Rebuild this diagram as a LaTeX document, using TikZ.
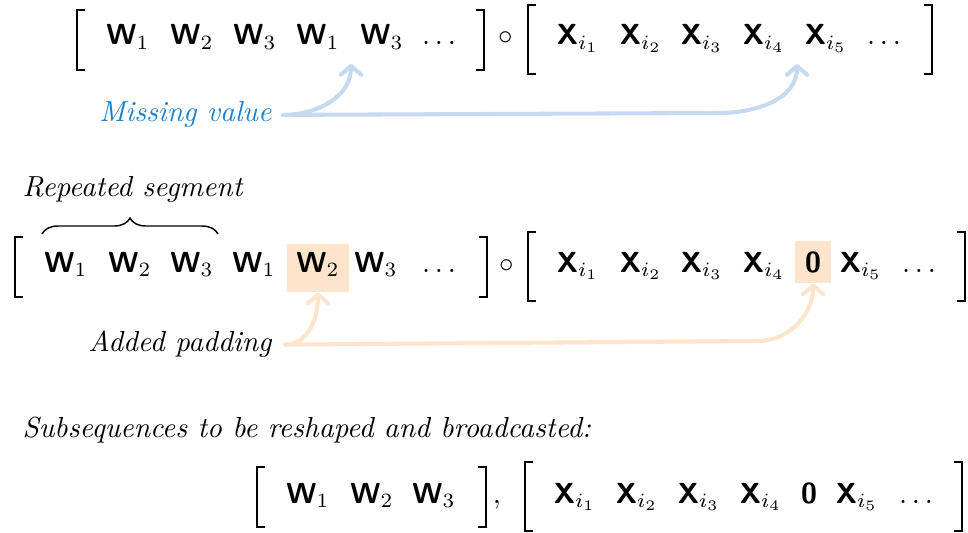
\documentclass[tikz,border=0pt]{standalone}
\usetikzlibrary{arrows.meta,decorations.pathreplacing}
\definecolor{labblue}{RGB}{28,128,200}
\definecolor{arrblue}{RGB}{197,217,240}
\definecolor{peach}{RGB}{253,228,203}
\newcommand{\bsf}[1]{\textsf{\bfseries #1}}
% square brackets: x, top, bottom
\newcommand{\lbr}[3]{\draw[brk] (#1+8,#2) -| (#1,#3) -- (#1+8,#3);}
\newcommand{\rbr}[3]{\draw[brk] (#1-8,#2) -| (#1,#3) -- (#1-8,#3);}
\begin{document}
\begin{tikzpicture}[x=0.3448pt,y=-0.3448pt,
  el/.style={anchor=base,inner sep=0pt},
  lab/.style={inner ysep=0pt,font=\itshape},
  brk/.style={line width=0.6pt},
  hl/.style={fill=peach,inner sep=0pt},
  arr/.style={line width=1.4pt,line cap=round,
    -{Straight Barb[length=3pt,width=7pt,round]}},
  bluearr/.style={arr,draw=arrblue},
  peacharr/.style={arr,draw=peach}]
\useasboundingbox (0,0) rectangle (968,533);

% ---- first row: sequence with a missing value
\lbr{77}{10}{70}
\node[el] (a1) at (128,45) {$\bsf{W}_1$};
\node[el] (a2) at (192,45) {$\bsf{W}_2$};
\node[el] (a3) at (255,45) {$\bsf{W}_3$};
\node[el] (a4) at (318,45) {$\bsf{W}_1$};
\node[el] (a5) at (382,45) {$\bsf{W}_3$};
\node[el] (a6) at (439,45) {$\dots$};
\rbr{484}{10}{70}
\node[el] (ac) at (506,45) {$\circ$};
\lbr{528}{5}{74}
\node[el] (b1) at (578,45) {$\bsf{X}_{i_1}$};
\node[el] (b2) at (641,45) {$\bsf{X}_{i_2}$};
\node[el] (b3) at (702,45) {$\bsf{X}_{i_3}$};
\node[el] (b4) at (764,45) {$\bsf{X}_{i_4}$};
\node[el] (b5) at (826,45) {$\bsf{X}_{i_5}$};
\node[el] (b6) at (884,45) {$\dots$};
\rbr{932}{5}{74}

\coordinate (gap1) at (351,64);
\coordinate (gap2) at (797,64);
\coordinate (bend1) at (718,113);
\node[lab,anchor=base east,inner xsep=3.8pt,text=labblue] (miss) at (283,122) {Missing value};
\draw[bluearr] (miss.east) to[out=0,in=-90] (gap1);
\draw[bluearr] (miss.east) -- (bend1) to[out=0,in=-90] (gap2);

% ---- second row: repeated segment with padding
\node[lab,anchor=base west,inner xsep=0pt] (rep) at (22,197) {Repeated segment};
\draw[line width=0.5pt,decorate,decoration={brace,amplitude=5.5pt}] (42,234) -- (218,234);

\lbr{15}{237}{297}
\node[el] (c1) at (66,272.5) {$\bsf{W}_1$};
\node[el] (c2) at (130,272.5) {$\bsf{W}_2$};
\node[el] (c3) at (192,272.5) {$\bsf{W}_3$};
\node[el] (c4) at (254,272.5) {$\bsf{W}_1$};
\node[hl,minimum width=62*0.3448pt,minimum height=48*0.3448pt] (padw) at (318,268) {};
\node[el] (c5) at (318,272.5) {$\bsf{W}_2$};
\node[el] (c6) at (376,272.5) {$\bsf{W}_3$};
\node[el] (c7) at (439,272.5) {$\dots$};
\rbr{487}{237}{297}
\node[el] (cc) at (507,272.5) {$\circ$};
\lbr{528}{232}{301}
\node[el] (d1) at (578,272.5) {$\bsf{X}_{i_1}$};
\node[el] (d2) at (641,272.5) {$\bsf{X}_{i_2}$};
\node[el] (d3) at (702,272.5) {$\bsf{X}_{i_3}$};
\node[el] (d4) at (764,272.5) {$\bsf{X}_{i_4}$};
\node[hl,minimum width=36*0.3448pt,minimum height=42*0.3448pt] (pad0) at (813,262) {};
\node[el] (d0) at (813,272.5) {$\bsf{0}$};
\node[el] (d5) at (861,272.5) {$\bsf{X}_{i_5}$};
\node[el] (d6) at (919,272.5) {$\dots$};
\rbr{965}{232}{301}

\coordinate (bend2) at (758,341);
\node[lab,anchor=base east,inner xsep=4.5pt] (pad) at (285,352) {Added padding};
\draw[peacharr] (pad.east) to[out=0,in=-90] (padw.south);
\draw[peacharr] (pad.east) -- (bend2) to[out=0,in=-90] (pad0.south);

% ---- third row: the subsequences
\node[lab,anchor=base west,inner xsep=0pt] (sub) at (22,437) {Subsequences to be reshaped and broadcasted:};
\lbr{257}{467}{527}
\node[el] (e1) at (308,503) {$\bsf{W}_1$};
\node[el] (e2) at (372,503) {$\bsf{W}_2$};
\node[el] (e3) at (434,503) {$\bsf{W}_3$};
\rbr{486}{467}{527}
\node[el] (ecomma) at (497,503) {$,$};
\lbr{525}{462}{531}
\node[el] (f1) at (575,503) {$\bsf{X}_{i_1}$};
\node[el] (f2) at (637,503) {$\bsf{X}_{i_2}$};
\node[el] (f3) at (699,503) {$\bsf{X}_{i_3}$};
\node[el] (f4) at (761,503) {$\bsf{X}_{i_4}$};
\node[el] (f0) at (809,503) {$\bsf{0}$};
\node[el] (f5) at (857,503) {$\bsf{X}_{i_5}$};
\node[el] (f6) at (916,503) {$\dots$};
\rbr{962}{462}{531}
\end{tikzpicture}
\end{document}
